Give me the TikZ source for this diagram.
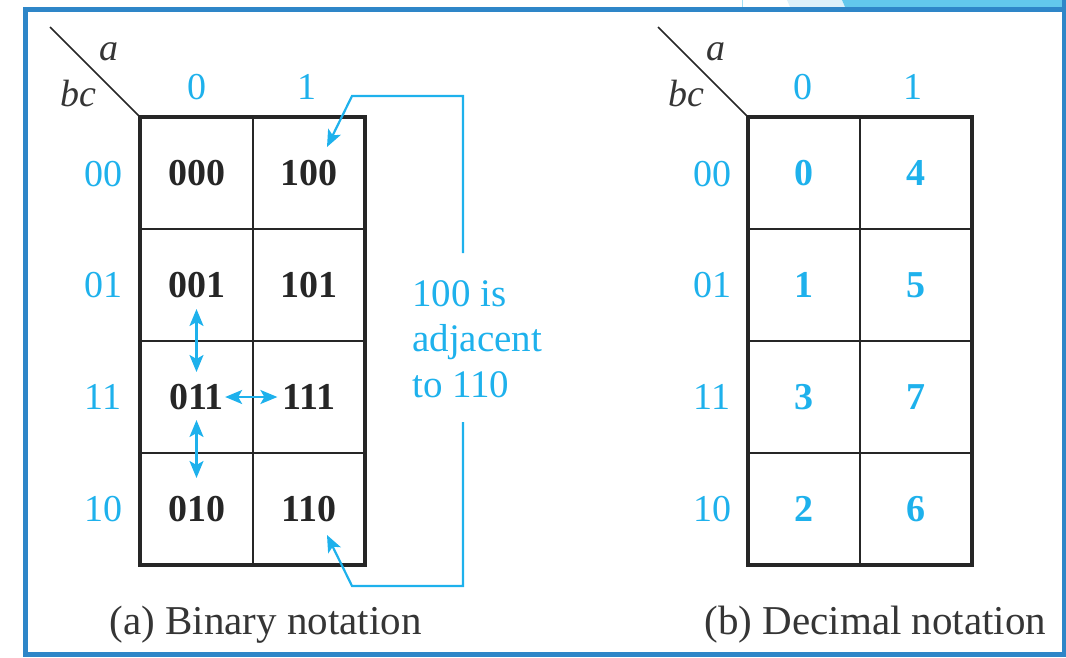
\documentclass[tikz,border=0pt]{standalone}
\usepackage{fontspec}
\setmainfont{Liberation Serif}
\usetikzlibrary{arrows.meta}
\definecolor{FrameBlue}{HTML}{2E86C8}
\definecolor{MapCyan}{HTML}{1EB1EC}
\definecolor{GridGray}{HTML}{262626}
\definecolor{TextGray}{HTML}{353535}
\definecolor{TabLight}{HTML}{DDF1FA}
\definecolor{TabMid}{HTML}{62C8EC}
\tikzset{
  bincell/.style={font=\fontsize{38}{44}\selectfont\bfseries, text=GridGray, inner sep=3pt},
  deccell/.style={bincell, text=MapCyan},
  maplabel/.style={font=\fontsize{38}{44}\selectfont, text=MapCyan, inner sep=0pt},
  varlabel/.style={font=\fontsize{38}{44}\selectfont\itshape, text=TextGray, inner sep=0pt, anchor=base},
  mapcaption/.style={font=\fontsize{41}{48}\selectfont, text=TextGray, inner sep=0pt, anchor=base},
  notetext/.style={font=\fontsize{39}{45.5}\selectfont, text=MapCyan, inner sep=0pt, align=left, anchor=west},
  mapouter/.style={draw=GridGray, line width=3.2pt},
  mapinner/.style={draw=GridGray, line width=2pt},
  adjarrow/.style={MapCyan, line width=2.2pt, {Stealth[length=17pt,width=14pt,inset=4pt]}-{Stealth[length=17pt,width=14pt,inset=4pt]}, #1},
  adjline/.style={MapCyan, line width=2.2pt, -{Stealth[length=17pt,width=14pt,inset=4pt]}},
}

\begin{document}
\begin{tikzpicture}[x=1pt, y=-1pt]
    % Coordinate map (pixels, y downwards):
    % left map  x 140..365, split at 253 ; right map x 748..972, split at 860
    % rows y 117, 229, 341, 453, 565
    \useasboundingbox (0,0) rectangle (1066,657);

    % page tab above the frame
    \fill[TabLight] (787,0) -- (842,0) -- (845,7) -- (790,7) -- cycle;
    \fill[TabMid] (842,0) -- (1064,0) -- (1064,7) -- (845,7) -- cycle;
    \draw[TabMid!60, line width=0.8pt] (742,0) -- (742,7);

    % frame
    \draw[FrameBlue, line width=5pt] (25,9.5) rectangle (1064,654.5);
    \draw[FrameBlue, line width=4pt] (1064,0) -- (1064,9.5);

    % ---- (a) binary map ----
    \draw[mapinner] (253,117) -- (253,565);
    \draw[mapinner] (140,229) -- (365,229);
    \draw[mapinner] (140,341) -- (365,341);
    \draw[mapinner] (140,453) -- (365,453);
    \draw[mapouter] (140,117) rectangle (365,565);
    \draw[GridGray, line width=1.6pt] (50,27) -- (140,117);

    \node[varlabel] (avarA) at (109,60) {a};
    \node[varlabel] (bcvarA) at (78,106) {bc};
    \node[maplabel, anchor=base] (colA0) at (197,99) {0};
    \node[maplabel, anchor=base] (colA1) at (307,99) {1};
    \node[maplabel] (rowA00) at (103,174) {00};
    \node[maplabel] (rowA01) at (103,285) {01};
    \node[maplabel] (rowA11) at (103,397) {11};
    \node[maplabel] (rowA10) at (103,509) {10};

    \node[bincell] (b000) at (196.5,173) {000};
    \node[bincell] (b100) at (309,173) {100};
    \node[bincell] (b001) at (196.5,285) {001};
    \node[bincell] (b101) at (309,285) {101};
    \node[bincell] (b011) at (196.5,397) {011};
    \node[bincell] (b111) at (309,397) {111};
    \node[bincell] (b010) at (196.5,509) {010};
    \node[bincell] (b110) at (309,509) {110};

    \draw[adjarrow={shorten <=8pt, shorten >=9pt}] (b001) -- (b011);
    \draw[adjarrow={shorten <=7pt, shorten >=15pt}] (b011) -- (b010);
    \draw[adjarrow={shorten <=-2pt, shorten >=2pt}] (b011) -- (b111);

    % wrap-around neighbours
    \node[notetext] (note) at (412,339) {100 is\\adjacent\\to 110};
    \coordinate (gapA) at (463,253);
    \coordinate (gapB) at (463,422);
    \coordinate (bendA) at (352,96);
    \coordinate (bendB) at (352,586);
    \coordinate (tipA) at (327,147);
    \coordinate (tipB) at (327,535);
    \draw[adjline] (gapA) |- (bendA) -- (tipA);
    \draw[adjline] (gapB) |- (bendB) -- (tipB);

    \node[mapcaption] (capA) at (265.5,634) {(a) Binary notation};

    % ---- (b) decimal map ----
    \draw[mapinner] (860,117) -- (860,565);
    \draw[mapinner] (748,229) -- (972,229);
    \draw[mapinner] (748,341) -- (972,341);
    \draw[mapinner] (748,453) -- (972,453);
    \draw[mapouter] (748,117) rectangle (972,565);
    \draw[GridGray, line width=1.6pt] (658,27) -- (748,117);

    \node[varlabel] (avarB) at (716,60) {a};
    \node[varlabel] (bcvarB) at (686,106) {bc};
    \node[maplabel, anchor=base] (colB0) at (803,99) {0};
    \node[maplabel, anchor=base] (colB1) at (913,99) {1};
    \node[maplabel] (rowB00) at (712,174) {00};
    \node[maplabel] (rowB01) at (712,285) {01};
    \node[maplabel] (rowB11) at (712,397) {11};
    \node[maplabel] (rowB10) at (712,509) {10};

    \node[deccell] (d0) at (804,173) {0};
    \node[deccell] (d4) at (916,173) {4};
    \node[deccell] (d1) at (804,285) {1};
    \node[deccell] (d5) at (916,285) {5};
    \node[deccell] (d3) at (804,397) {3};
    \node[deccell] (d7) at (916,397) {7};
    \node[deccell] (d2) at (804,509) {2};
    \node[deccell] (d6) at (916,509) {6};

    \node[mapcaption] (capB) at (875.5,634) {(b) Decimal notation};
\end{tikzpicture}
\end{document}
